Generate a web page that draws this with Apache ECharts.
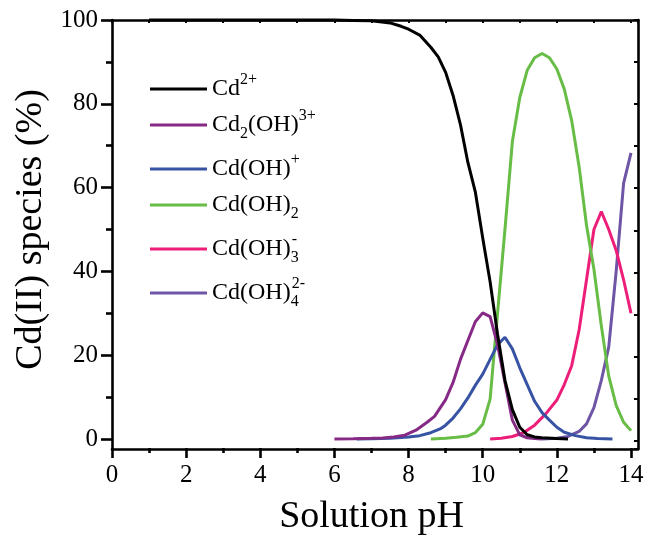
<!DOCTYPE html>
<html>
<head>
<meta charset="utf-8">
<script src="https://cdn.jsdelivr.net/npm/echarts@6/dist/echarts.min.js"></script>
<style>html,body{margin:0;padding:0;background:#fff;}#c{width:656px;height:541px;}</style>
</head>
<body>
<div id="c"></div>
<script>
// ---- data ----
const xTickStep = 2;          // labelled ticks 0,2,...,14
const yTickStep = 20;         // labelled ticks 0,20,...,100
const seriesNames = ['Cd2+', 'Cd2(OH)3+', 'Cd(OH)+', 'Cd(OH)2', 'Cd(OH)3-', 'Cd(OH)4 2-'];

const pHCd = [1, 2, 3, 4, 5, 6, 6.5, 7, 7.5, 7.8, 8.0, 8.3, 8.6, 8.8, 9.0, 9.2, 9.4, 9.6, 9.8, 10.0, 10.2, 10.4, 10.6, 10.8, 11.0, 11.2, 11.4, 11.6, 12.0, 12.3];
const valCd = [100, 100, 100, 100, 100, 100, 99.9, 99.8, 99.3, 98.5, 97.8, 96.4, 93.5, 91.2, 87.5, 82, 75, 66, 59, 48, 37.5, 25, 14, 7, 2.8, 1, 0.5, 0.3, 0.1, 0];

const pHCd2OH = [6, 6.5, 7, 7.3, 7.6, 7.9, 8.2, 8.5, 8.7, 9.0, 9.2, 9.4, 9.6, 9.8, 10.0, 10.2, 10.4, 10.6, 10.8, 11.0, 11.2, 11.4, 11.6];
const valCd2OH = [0, 0.05, 0.15, 0.25, 0.5, 0.9, 2.1, 4, 5.4, 9.4, 13.5, 19, 23.5, 28, 30.1, 29.2, 22.5, 13.5, 4.5, 1, 0.3, 0.1, 0];

const pHCdOH = [6.6, 7, 7.5, 8.0, 8.3, 8.6, 8.85, 9.0, 9.2, 9.4, 9.6, 9.8, 10.0, 10.2, 10.4, 10.6, 10.8, 11.0, 11.2, 11.4, 11.6, 11.8, 12.0, 12.2, 12.5, 12.8, 13.1, 13.5];
const valCdOH = [0, 0.05, 0.2, 0.5, 0.8, 1.5, 2.4, 3.3, 5, 7.2, 9.8, 12.8, 15.5, 19, 22.5, 24.3, 21.5, 17, 13, 9, 6.3, 4.5, 2.8, 1.6, 0.8, 0.3, 0.1, 0];

const pHCdOH2 = [8.6, 9.0, 9.3, 9.6, 9.8, 10.0, 10.2, 10.4, 10.6, 10.8, 11.0, 11.2, 11.4, 11.6, 11.8, 12.0, 12.2, 12.4, 12.6, 12.8, 13.0, 13.2, 13.4, 13.6, 13.8, 14.0];
const valCdOH2 = [0, 0.2, 0.4, 0.7, 1.5, 3.5, 9.5, 30, 50, 71, 81.5, 88, 91, 92, 91, 88.3, 83.5, 76, 65, 51, 40.5, 27, 15, 8, 4, 2];

const pHCdOH3 = [10.2, 10.5, 10.8, 11.1, 11.4, 11.7, 12.0, 12.2, 12.4, 12.6, 12.8, 13.0, 13.2, 13.4, 13.6, 13.8, 14.0];
const valCdOH3 = [0, 0.2, 0.6, 1.5, 3.3, 6, 9.3, 13, 17.5, 26, 38, 50, 54.3, 50, 45, 38, 30];

const pHCdOH4 = [11.6, 12.0, 12.3, 12.6, 12.8, 13.0, 13.2, 13.4, 13.6, 13.8, 14.0];
const valCdOH4 = [0, 0.2, 0.6, 1.8, 3.6, 7.5, 14, 22, 40, 61, 68.3];

// ---- styling ----
const colors = ['#000000', '#862a86', '#3853a4', '#67bd45', '#ed1e79', '#6e55a5'];
const legendLabels = [
  'Cd{sup|2+}',
  'Cd{sub|2}(OH){sup|3+}',
  'Cd(OH){sup|+}',
  'Cd(OH){sub|2}',
  'Cd(OH){subs|3}{sup|-}',
  'Cd(OH){subs|4}{sup|2-}'
];
const legendTops = [89, 125, 169, 205, 249, 293];
const FONT = "'Liberation Serif', 'Times New Roman', serif";

const pairs = [[pHCd, valCd], [pHCd2OH, valCd2OH], [pHCdOH, valCdOH], [pHCdOH2, valCdOH2], [pHCdOH3, valCdOH3], [pHCdOH4, valCdOH4]];

const rich = {
  sup: { fontSize: 16, lineHeight: 16, verticalAlign: 'top', fontFamily: FONT, color: '#000' },
  sub: { fontSize: 16, lineHeight: 16, verticalAlign: 'bottom', fontFamily: FONT, color: '#000' },
  subs: { fontSize: 16, lineHeight: 16, verticalAlign: 'bottom', fontFamily: FONT, color: '#000', width: 1, align: 'left' }
};

const legends = seriesNames.map((n, i) => ({
  data: [n],
  orient: 'vertical',
  left: 150,
  top: legendTops[i] - 17,
  padding: 0,
  icon: 'rect',
  itemWidth: 57,
  itemHeight: 3,
  selectedMode: false,
  textStyle: { fontSize: 24, fontFamily: FONT, color: '#000', lineHeight: 34, rich: rich },
  formatter: () => legendLabels[i]
}));

const tickLine = { color: '#000', width: 2.6 };
const frameLine = { show: true, onZero: false, lineStyle: { color: '#000', width: 2.6 } };
const chart = echarts.init(document.getElementById('c'), null, { renderer: 'canvas' });
chart.setOption({
  backgroundColor: '#fff',
  animation: false,
  legend: legends,
  grid: [
    // data grid: x 0..14, y 0..100
    { left: 112, right: 25, top: 20, bottom: 101, containLabel: false },
    // frame grid: x 0..14.2, y -2..100
    { left: 112, right: 18, top: 20, bottom: 92, containLabel: false }
  ],
  xAxis: [
    {
      gridIndex: 0, type: 'value', position: 'bottom', offset: 9, min: 0, max: 14, interval: xTickStep,
      axisLine: { show: false, onZero: false },
      axisTick: { show: true, length: 10, lineStyle: tickLine },
      minorTick: { show: true, splitNumber: 2, length: 5, lineStyle: tickLine },
      axisLabel: { show: true, fontSize: 25, fontFamily: FONT, color: '#000', margin: 15 },
      splitLine: { show: false },
      minorSplitLine: { show: false },
      name: 'Solution pH', nameLocation: 'middle', nameGap: 50,
      nameTextStyle: { fontSize: 38, fontFamily: FONT, color: '#000' }
    },
    {
      gridIndex: 1, type: 'value', position: 'bottom', min: 0, max: 14.2,
      axisLine: frameLine, axisTick: { show: false }, axisLabel: { show: false }, splitLine: { show: false }
    },
    {
      gridIndex: 1, type: 'value', position: 'top', min: 0, max: 14.2, interval: 1,
      axisLine: frameLine,
      axisTick: { show: true, inside: true, length: 3, lineStyle: { color: '#000', width: 2 } },
      axisLabel: { show: false }, splitLine: { show: false }
    }
  ],
  yAxis: [
    {
      gridIndex: 0, type: 'value', position: 'left', min: 0, max: 100, interval: yTickStep,
      axisLine: { show: false, onZero: false },
      axisTick: { show: true, length: 11, lineStyle: tickLine },
      minorTick: { show: true, splitNumber: 2, length: 6, lineStyle: tickLine },
      axisLabel: { show: true, fontSize: 25, fontFamily: FONT, color: '#000', margin: 14 },
      splitLine: { show: false },
      minorSplitLine: { show: false },
      name: 'Cd(II) species (%)', nameLocation: 'middle', nameGap: 54, nameRotate: 90,
      nameTextStyle: { fontSize: 38, fontFamily: FONT, color: '#000' }
    },
    {
      gridIndex: 1, type: 'value', position: 'left', min: -2, max: 100,
      axisLine: frameLine, axisTick: { show: false }, axisLabel: { show: false }, splitLine: { show: false }
    },
    {
      gridIndex: 1, type: 'value', position: 'right', min: -2, max: 100, splitNumber: 10,
      axisLine: frameLine,
      axisTick: { show: true, inside: true, length: 4, lineStyle: { color: '#000', width: 2 } },
      axisLabel: { show: false }, splitLine: { show: false }
    }
  ],
  series: seriesNames.map((n, i) => ({
    name: n,
    type: 'line',
    xAxisIndex: 0,
    yAxisIndex: 0,
    showSymbol: false,
    smooth: false,
    clip: false,
    color: colors[i],
    lineStyle: { width: 3, color: colors[i] },
    z: 10 - i,
    data: pairs[i][0].map((x, k) => [x, pairs[i][1][k]])
  }))
});
</script>
</body>
</html>
